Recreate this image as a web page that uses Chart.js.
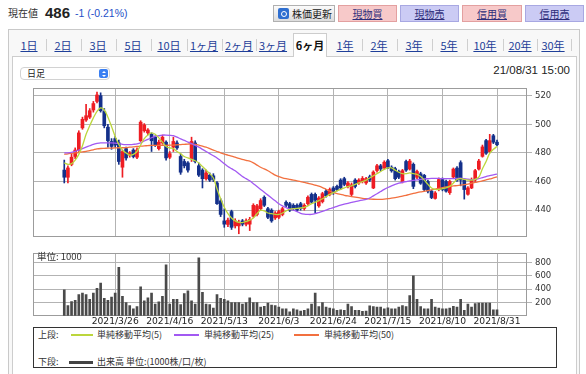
<!DOCTYPE html>
<html>
<head>
<meta charset="utf-8">
<script src="https://cdn.jsdelivr.net/npm/chart.js@4.4.1/dist/chart.umd.min.js"></script>
<style>
  html, body { margin: 0; padding: 0; }
  body { width: 586px; height: 374px; overflow: hidden; position: relative; background: #fff;
         font-family: "Noto Sans CJK JP", "Liberation Sans", sans-serif; color: #333; }
  .a { position: absolute; white-space: nowrap; }
  .btn { position: absolute; top: 5px; height: 17px; line-height: 15px; font-size: 10px; text-align: center;
         border: 1px solid; box-sizing: border-box; }
  .buy { background: #f7c9c9; border-color: #e3a0a0; }
  .sell { background: #cbcbf4; border-color: #a8a8e2; }
  .btn u { color: #2d2d7a; }
  .tab { position: absolute; top: 37px; font-size: 11px; line-height: 16px; color: #1f3f99;
         text-decoration: underline; transform: translateX(-50%); white-space: nowrap; }
  .sep { position: absolute; top: 39px; width: 1px; height: 12px; background: #cfcfcf; }
  canvas { position: absolute; left: 0; }
</style>
</head>
<body>
<!-- header row -->
<div class="a" style="left:8px;top:6px;font-size:10px;line-height:14px;">現在値</div>
<div class="a" style="left:45px;top:4px;font:bold 15px/18px 'Liberation Sans',sans-serif;color:#222;">486</div>
<div class="a" style="left:75px;top:6px;font:10.5px/14px 'Liberation Sans',sans-serif;color:#2450c8;">-1 (-0.21%)</div>

<div class="btn" style="left:273px;width:62px;background:linear-gradient(#fbfbfb,#dcdcdc);border-color:#b0b0b0;text-align:left;">
  <span style="position:absolute;left:4px;top:2px;width:11px;height:11px;border-radius:2px;background:#2f6fd0;"></span>
  <span style="position:absolute;left:7px;top:4.5px;width:4px;height:4px;border:1px solid #fff;border-radius:50%;"></span>
  <span style="position:absolute;left:18px;top:0;color:#222;">株価更新</span>
</div>
<div class="btn buy" style="left:338px;width:59px;"><u>現物買</u></div>
<div class="btn sell" style="left:400px;width:59px;"><u>現物売</u></div>
<div class="btn buy" style="left:462px;width:60px;"><u>信用買</u></div>
<div class="btn sell" style="left:525px;width:59px;"><u>信用売</u></div>

<!-- tab frame -->
<div class="a" style="left:8px;top:29px;width:572px;height:360px;border:1px solid #c9c9c9;background:#f8f8f8;box-sizing:border-box;"></div>
<div class="a" style="left:12px;top:56px;width:565px;height:330px;border:1px solid #cdcdcd;background:#fff;box-sizing:border-box;"></div>
<div class="a" style="left:293px;top:33px;width:34px;height:24px;border:1px solid #cdcdcd;border-bottom:none;background:#fff;box-sizing:border-box;"></div>
<div id="tabs"></div>

<!-- select + timestamp -->
<div class="a" style="left:20px;top:67px;width:90px;height:13px;border:1px solid #d2d2d2;border-radius:4px;background:#fff;box-sizing:border-box;">
  <span style="position:absolute;left:6px;top:-1px;font-size:9px;line-height:13px;color:#222;">日足</span>
  <span style="position:absolute;right:1px;top:1px;width:9px;height:9px;border-radius:2px;background:#3a7ff2;"></span>
  <span style="position:absolute;right:3.5px;top:2.5px;width:0;height:0;border-left:2px solid transparent;border-right:2px solid transparent;border-bottom:2.5px solid #fff;"></span>
  <span style="position:absolute;right:3.5px;top:6.5px;width:0;height:0;border-left:2px solid transparent;border-right:2px solid transparent;border-top:2.5px solid #fff;"></span>
</div>
<div class="a" style="right:16px;top:63px;font:11.5px/14px 'Liberation Sans',sans-serif;color:#222;">21/08/31 15:00</div>

<canvas id="price" width="586" height="165" style="top:80px"></canvas>
<canvas id="vol" width="586" height="87" style="top:245px"></canvas>
<div class="a" style="left:37px;top:250px;font-size:9.5px;line-height:12px;color:#333;">単位: 1000</div>

<!-- legend box -->
<div class="a" style="left:33px;top:327px;width:524px;height:41px;border:1px solid #333;background:#fff;box-sizing:border-box;font-size:9px;line-height:12px;color:#333;">
  <span class="a" style="left:4px;top:1px;">上段:</span>
  <span class="a" style="left:37px;top:6px;width:22px;height:1.5px;background:#bcd63c;"></span>
  <span class="a" style="left:63px;top:1px;">単純移動平均(5)</span>
  <span class="a" style="left:140px;top:6px;width:25px;height:1.5px;background:#a259f2;"></span>
  <span class="a" style="left:170px;top:1px;">単純移動平均(25)</span>
  <span class="a" style="left:260px;top:6px;width:25px;height:1.5px;background:#f2703f;"></span>
  <span class="a" style="left:290px;top:1px;">単純移動平均(50)</span>
  <span class="a" style="left:4px;top:28px;">下段:</span>
  <span class="a" style="left:35px;top:33px;width:24px;height:3px;background:#444;"></span>
  <span class="a" style="left:63px;top:28px;">出来高 単位:(1000株/口/枚)</span>
</div>

<script>
// candles, index 0 = 2021/3/8 ... index 119 = 2021/8/31
const open = [
  468, 463, 472, 477.5, 482, 497.5, 503, 505, 510, 516,
  520, 509, 498, 488, 490, 487, 470, 483, 478.5, 482,
  477, 488.5, 495.5, 494, 493, 491, 483, 487, 487.5, 477,
  484, 487, 477.5, 474, 473, 476, 487, 471, 468, 462,
  464.5, 464, 459, 446.5, 432.5, 430, 439, 429, 429, 432.5,
  430.2, 430.2, 435.7, 437, 441, 449, 441, 440, 434.6, 435,
  437, 445.5, 444.5, 443.4, 443.4, 444.5, 441.2, 444.5, 451, 451,
  443, 446, 453.3, 451, 455.5, 456.6, 461, 462, 456.6, 451,
  461, 459, 460, 459, 463.3, 455.5, 467.7, 471, 469.5, 474.5,
  470, 469, 467, 460, 474, 468.7, 472, 463, 465.4, 464.3,
  460, 453.3, 448.2, 454.4, 461.4, 460, 452.2, 463.2, 469.4, 473.2,
  461, 451.1, 455.5, 461, 468.7, 477.6, 488.6, 480.9, 492, 487.5
];
const close = [
  463, 469.5, 477, 482, 494, 503.5, 506, 509.5, 514.5, 520.5,
  509.5, 499, 488.5, 484.5, 485.5, 474, 481, 476.5, 480, 477.5,
  482, 501.5, 499.5, 496, 488.5, 485.5, 487.5, 491, 476.5, 479.5,
  488, 483.5, 466.5, 471, 468, 488, 474, 464.5, 462, 466,
  461, 461.5, 444.5, 437, 430.2, 433, 428, 432.5, 431.5, 430.2,
  432.5, 433.5, 443.4, 443, 446.7, 443.4, 435, 432.5, 438, 439,
  441, 443.4, 440, 441.2, 440, 441.2, 443.4, 449, 445.6, 447,
  448.5, 451.5, 450, 454.4, 452.2, 454.4, 455.5, 458, 459, 457.7,
  456.6, 461, 462.2, 462, 461, 466.6, 471, 468.8, 473.5, 470,
  467.5, 462, 463, 467.6, 468, 474.3, 456.6, 467, 458.8, 454.4,
  453.3, 448.8, 452, 461.4, 454.4, 453.3, 460, 468.7, 461, 461,
  454.4, 455.5, 461.4, 467.6, 474.3, 484.2, 479.8, 488.6, 487.5, 485.7
];
const high = [
  475, 471, 479, 483.5, 495.5, 505, 514, 511, 516, 522.5,
  522, 511, 500, 490, 491.5, 489, 482, 484, 481, 483,
  483.5, 502.5, 500.5, 497, 494, 492, 489, 492.5, 488.5, 481,
  491, 488.5, 479, 475.5, 474, 491, 488.5, 473, 469, 468,
  466, 465.5, 460, 448, 441, 434.5, 440, 434, 433, 433.5,
  434, 435, 444.5, 444, 448, 450, 442, 441, 439, 440,
  442, 446.5, 445.5, 444.5, 444.5, 445.5, 444.5, 450, 452, 452,
  449.5, 452.5, 454.5, 455.5, 456.5, 457.5, 462, 463, 460, 459,
  462, 462, 463.5, 463, 464.5, 467.5, 472, 472, 474.5, 475.5,
  471, 470, 468, 468.5, 475, 475.5, 473, 468, 466.5, 465,
  461, 454, 453, 462.5, 462.5, 461, 461, 469.5, 470.5, 474.5,
  462, 456.5, 462.5, 468.5, 475.5, 485.5, 489.5, 493, 493, 489
];
const low = [
  459, 459, 471, 476, 481, 496.5, 502, 504, 508.5, 515,
  508.5, 497.5, 484, 482.5, 484, 472, 463, 475, 477, 476.5,
  476, 488, 494.5, 492.5, 481, 484.5, 482, 486, 475, 476,
  481, 482.5, 465, 469.5, 466.5, 474, 473, 463.5, 455.5, 461,
  460, 460, 444, 435.5, 428, 428.5, 426.5, 427.5, 423.5, 429,
  429, 425.7, 435, 436, 440, 442.5, 434, 431.5, 433.5, 434,
  436, 442.5, 439, 440, 439, 440, 440, 443.5, 444.5, 438,
  442, 445, 449, 450, 451, 453.5, 454.5, 457, 455.5, 450,
  455.5, 458, 459, 458, 460, 455, 466.5, 467.5, 468.5, 469,
  466.5, 461, 462, 459, 467, 468, 455, 462, 458, 453.5,
  452, 448, 447.7, 453.5, 453.5, 452.5, 451, 462.5, 460, 457,
  447.7, 450.5, 455, 460, 468, 477, 479, 480, 486.5, 485
];

// moving averages
const ma5 = [
  473, 472, 472.5, 475, 479, 485, 493, 499, 504.5, 509,
  511.5, 510, 505, 498.5, 491.5, 486, 482, 480, 478.5, 479,
  481, 485.5, 490, 492.5, 494, 493, 490.5, 487.5, 484.5, 483.5,
  483, 481, 479.5, 477.5, 476.5, 475.5, 474.5, 473, 470.5, 468,
  465.5, 462.5, 455, 448, 442, 437.5, 434.5, 432.5, 431.5, 431.3,
  432, 433, 434.5, 437.5, 440, 439.5, 438, 437.5, 437, 437,
  438, 439.5, 440.5, 441, 441.2, 441.5, 442, 443, 444.5, 445.5,
  446.7, 448, 449.5, 451, 452.2, 453.5, 454.5, 455.5, 456.5, 457,
  458, 459, 460, 461, 462.5, 464, 465.5, 467, 468.5, 469.5,
  469.5, 468, 466.5, 465.5, 465.5, 466, 465.5, 465, 463.5, 461,
  458, 455.5, 454.5, 454.4, 455, 455.5, 456.6, 459, 461.5, 462,
  461.5, 461, 461, 461.5, 463, 469, 474, 479.8, 482.5, 484.5
];
const ma25 = [
  480, 480, 480.3, 481, 482, 483, 484, 485, 486, 486.6,
  487, 487, 487, 487, 486.8, 486.5, 486, 485.8, 485.8, 486,
  486.3, 487, 488.3, 489.5, 490.6, 491.5, 492, 492.5, 492.5, 492.3,
  492, 491, 489.8, 488.8, 487.5, 486.5, 485.3, 484, 482.5, 481,
  479.5, 478, 476.5, 474.5, 472.5, 470.5, 469, 467.5, 465.5, 463.5,
  462, 460.5, 458.5, 456.5, 454.5, 452.5, 450.5, 448.5, 446.5, 444.5,
  443, 441.8, 440.7, 440, 439, 437.8, 437.2, 437, 437, 437.5,
  438.3, 439.2, 440, 441, 441.8, 442.7, 443.5, 444.2, 444.8, 445.4,
  446, 446.5, 447, 447.5, 448.5, 450, 451.5, 453, 454.5, 455.8,
  457, 458, 458.8, 459.5, 460, 460.5, 460.8, 461.2, 461.5, 461.8,
  462, 462.2, 462.2, 462.2, 462, 462, 462, 462, 462.2, 462.3,
  462, 461.6, 461.4, 461.5, 462, 462.8, 463.5, 464.2, 464.7, 465.2
];
const ma50 = [
  479, 479.4, 479.7, 480, 480.3, 480.7, 481, 481.6, 482.2, 482.8,
  483.1, 483.2, 483.3, 483.4, 483.5, 483.6, 483.6, 483.7, 484, 484.2,
  484.5, 484.7, 484.9, 485.1, 485.3, 485.3, 485.3, 485.3, 485.3, 485.4,
  485.5, 485.6, 485.8, 486, 486.2, 486.3, 486, 485.5, 484.8, 484,
  483, 482, 481, 480, 479.2, 478.5, 477.8, 477, 476.2, 475.5,
  474.8, 474.2, 473, 471.5, 470, 468.8, 467.5, 466, 464.5, 463.4,
  462.6, 462, 461.5, 461, 460.5, 460, 459.4, 458.8, 458.2, 457.5,
  456.8, 455.8, 454.6, 453.4, 452.3, 451.6, 451, 450.4, 449.9, 449.5,
  449.1, 448.7, 448.3, 448, 447.8, 447.6, 447.5, 447.5, 447.7, 448,
  448.4, 448.8, 449.2, 449.8, 450.4, 451, 451.7, 452.3, 452.8, 453.2,
  453.7, 454.2, 454.7, 455.2, 455.7, 456.2, 456.6, 456.9, 457.2, 457.5,
  457.8, 458.2, 458.8, 459.4, 459.9, 460.5, 461.2, 461.8, 462.5, 463.2
];

// volume, unit 1000
const volume = [
  388, 151, 213, 232, 317, 340, 317, 246, 340, 411,
  492, 260, 232, 279, 340, 728, 293, 199, 151, 104,
  137, 435, 222, 270, 340, 175, 208, 293, 766, 175,
  246, 246, 166, 331, 374, 222, 175, 870, 350, 175,
  166, 114, 317, 260, 246, 222, 199, 199, 199, 175,
  199, 270, 199, 199, 128, 142, 189, 161, 151, 128,
  104, 104, 57, 104, 90, 71, 80, 104, 175, 340,
  137, 199, 128, 114, 104, 80, 90, 80, 175, 137,
  80, 80, 66, 71, 147, 137, 128, 128, 104, 118,
  104, 104, 128, 151, 137, 303, 600, 246, 137, 104,
  104, 246, 128, 114, 104, 104, 114, 142, 128, 246,
  80, 175, 128, 184, 189, 189, 189, 189, 90, 90
];

const tickIndex = [14, 29, 44, 59, 74, 89, 104, 119];
const tickLabels = ['2021/3/26', '2021/4/16', '2021/5/13', '2021/6/3', '2021/6/24', '2021/7/15', '2021/8/10', '2021/8/31'];
const priceTicks = [440, 460, 480, 500, 520];
const volumeTicks = [200, 400, 600, 800];

const tabNames = ['1日', '2日', '3日', '5日', '10日', '1ヶ月', '2ヶ月', '3ヶ月', '6ヶ月', '1年', '2年', '3年', '5年', '10年', '20年', '30年'];
const tabX = [29, 63, 98, 133, 169, 204, 239, 273, 310, 345, 379, 414, 449, 485, 520, 553];
const tabs = document.getElementById('tabs');
tabNames.forEach((t, i) => {
    const el = document.createElement('div');
    el.className = 'tab';
    el.style.left = tabX[i] + 'px';
    el.textContent = t;
    if (t === '6ヶ月') {
        el.style.textDecoration = 'none';
        el.style.color = '#111';
        el.style.fontWeight = 'bold';
    }
    tabs.appendChild(el);
    if (i < tabNames.length - 1 && i !== 7 && i !== 8) {
        const s = document.createElement('div');
        s.className = 'sep';
        s.style.left = Math.round((tabX[i] + tabX[i + 1]) / 2) + 'px';
        tabs.appendChild(s);
    }
});
const lastSep = document.createElement('div');
lastSep.className = 'sep';
lastSep.style.left = '571px';
tabs.appendChild(lastSep);

const UP = '#ee1d23';
const DOWN = '#14308a';
const GRID = '#b3b3b3';
const candleColors = open.map((o, i) => close[i] >= o ? UP : DOWN);

const framePlugin = {
    id: 'frame',
    beforeDatasetsDraw(chart) {
        const { ctx, chartArea: a } = chart;
        ctx.save();
        ctx.strokeStyle = '#9c9c9c';
        ctx.lineWidth = 1;
        ctx.strokeRect(Math.round(a.left) + 0.5, Math.round(a.top) + 0.5,
            Math.round(a.right - a.left) - 1, Math.round(a.bottom - a.top) - 1);
        ctx.restore();
    }
};

function xScale(showLabels, h) {
    return {
        type: 'linear',
        min: -8.6,
        max: 127.25,
        offset: false,
        grid: { color: GRID, drawTicks: false, offset: false },
        border: { display: false },
        ticks: showLabels ? {
            autoSkip: false,
            maxRotation: 0,
            padding: 0,
            color: '#222',
            font: { family: 'DejaVu Sans', size: 9.2 },
            callback: (v) => {
                const k = tickIndex.indexOf(v);
                return k >= 0 ? tickLabels[k] : '';
            }
        } : { display: false },
        afterBuildTicks: (s) => { s.ticks = tickIndex.map(v => ({ value: v })); },
        afterFit: (s) => { s.height = h; }
    };
}

function yScale(min, max, ticks) {
    return {
        position: 'right',
        min: min,
        max: max,
        grid: { color: GRID, tickLength: 5 },
        border: { display: false },
        ticks: { padding: 3, color: '#333', font: { family: 'DejaVu Sans', size: 8.5 } },
        afterBuildTicks: (s) => { s.ticks = ticks.map(v => ({ value: v })); },
        afterFit: (s) => { s.width = 59; }
    };
}

const line = (data, color) => ({
    type: 'line',
    data: data.map((v, i) => ({ x: i, y: v })),
    borderColor: color,
    borderWidth: 1.3,
    pointRadius: 0,
    tension: 0.3
});

new Chart(document.getElementById('price').getContext('2d'), {
    type: 'bar',
    data: {
        datasets: [
            line(ma5, '#bcd63c'),
            line(ma25, '#a259f2'),
            line(ma50, '#f2703f'),
            {
                data: open.map((o, i) => ({ x: i, y: [o, close[i]] })),
                backgroundColor: candleColors,
                barThickness: 3,
                minBarLength: 1,
                grouped: false
            },
            {
                data: low.map((l, i) => ({ x: i, y: [l, high[i]] })),
                backgroundColor: candleColors,
                barThickness: 1,
                grouped: false
            }
        ]
    },
    options: {
        responsive: false,
        animation: false,
        events: [],
        layout: { padding: { left: 33, top: 3, right: 0, bottom: 5 } },
        scales: {
            x: xScale(false, 0),
            y: yScale(421.3, 525.3, priceTicks)
        },
        plugins: { legend: { display: false }, tooltip: { enabled: false } }
    },
    plugins: [framePlugin]
});

new Chart(document.getElementById('vol').getContext('2d'), {
    type: 'bar',
    data: {
        datasets: [{
            data: volume.map((v, i) => ({ x: i, y: v })),
            backgroundColor: '#4a4a4a',
            barThickness: 2,
            grouped: false
        }]
    },
    options: {
        responsive: false,
        animation: false,
        events: [],
        layout: { padding: { left: 33, top: 4.3, right: 0, bottom: 0 } },
        scales: {
            x: xScale(true, 16.3),
            y: yScale(0, 942, volumeTicks)
        },
        plugins: { legend: { display: false }, tooltip: { enabled: false } }
    },
    plugins: [framePlugin]
});
</script>
</body>
</html>
